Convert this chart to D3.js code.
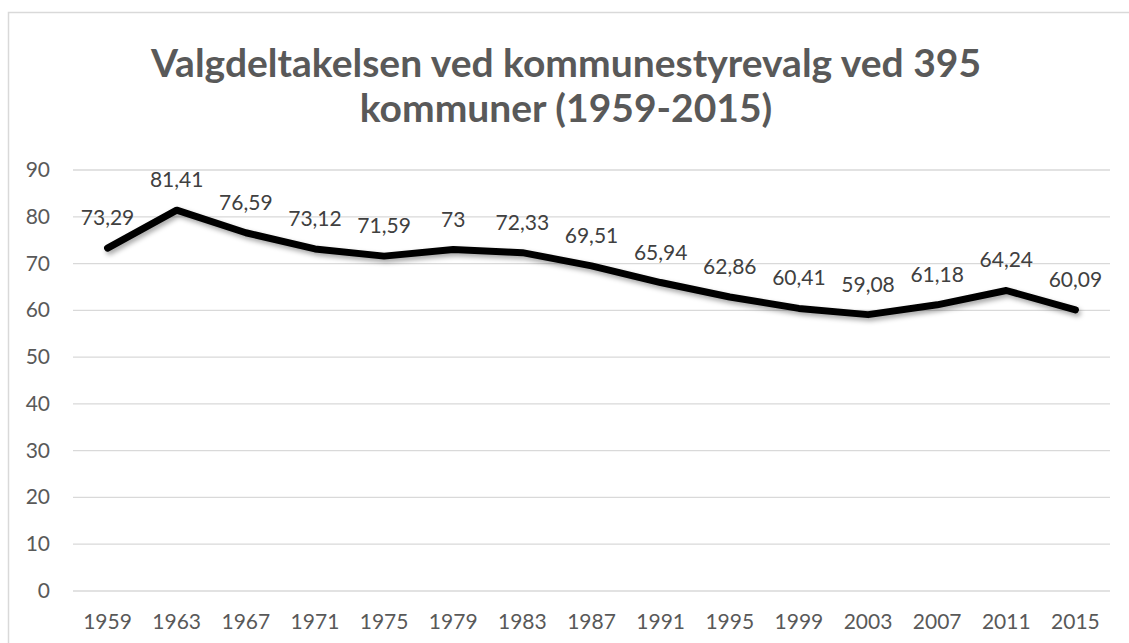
<!DOCTYPE html>
<html>
<head>
<meta charset="utf-8">
<script src="https://cdn.jsdelivr.net/npm/d3@7"></script>
<style>
  body { margin: 0; background: #fff; }
  svg { display: block; font-family: Lato, "Open Sans", sans-serif; }
</style>
</head>
<body>
<svg class="chart"></svg>
<script>
const years = ['1959', '1963', '1967', '1971', '1975', '1979', '1983', '1987',
  '1991', '1995', '1999', '2003', '2007', '2011', '2015'];
const turnout = [73.29, 81.41, 76.59, 73.12, 71.59, 73, 72.33, 69.51,
  65.94, 62.86, 60.41, 59.08, 61.18, 64.24, 60.09];
const yTicks = [0, 10, 20, 30, 40, 50, 60, 70, 80, 90];
const titleLines = ['Valgdeltakelsen ved kommunestyrevalg ved 395', 'kommuner (1959-2015)'];

const width = 1129;
const height = 643;
const margin = { top: 170, right: 19, bottom: 52, left: 73 };

const svg = d3.select('.chart')
  .attr('width', width)
  .attr('height', height);

// drop shadow for the line
const defs = svg.append('defs');
const shadow = defs.append('filter')
  .attr('id', 'shadow')
  .attr('x', '-10%').attr('y', '-30%')
  .attr('width', '120%').attr('height', '160%');
shadow.append('feDropShadow')
  .attr('dx', 2).attr('dy', 3)
  .attr('stdDeviation', 2.5)
  .attr('flood-color', '#000')
  .attr('flood-opacity', 0.35);

// chart border
svg.append('rect')
  .attr('x', 8.5)
  .attr('y', 12.5)
  .attr('width', width)
  .attr('height', height)
  .attr('fill', 'none')
  .attr('stroke', '#d9d9d9')
  .attr('stroke-width', 1.5);

// title
svg.append('text')
  .attr('text-anchor', 'middle')
  .attr('fill', '#595959')
  .attr('font-weight', 'bold')
  .attr('font-size', 39)
  .selectAll('tspan')
  .data(titleLines)
  .enter()
  .append('tspan')
  .attr('x', 566)
  .attr('y', (d, i) => 77 + i * 45)
  .text(d => d);

const x = d3.scaleBand()
  .domain(years)
  .range([margin.left, width - margin.right]);

const y = d3.scaleLinear()
  .domain([0, 90])
  .range([height - margin.bottom, margin.top]);

// gridlines
svg.append('g')
  .selectAll('line')
  .data(yTicks)
  .enter()
  .append('line')
  .attr('x1', margin.left)
  .attr('x2', width - margin.right)
  .attr('y1', d => y(d))
  .attr('y2', d => y(d))
  .attr('stroke', '#d9d9d9')
  .attr('stroke-width', 1.3);

// y axis labels
svg.append('g')
  .selectAll('text')
  .data(yTicks)
  .enter()
  .append('text')
  .attr('x', 50)
  .attr('y', d => y(d) + 7)
  .attr('text-anchor', 'end')
  .attr('fill', '#595959')
  .attr('font-size', 21)
  .text(d => d);

// x axis labels
svg.append('g')
  .selectAll('text')
  .data(years)
  .enter()
  .append('text')
  .attr('x', d => x(d) + x.bandwidth() / 2)
  .attr('y', 629)
  .attr('text-anchor', 'middle')
  .attr('fill', '#595959')
  .attr('font-size', 21)
  .text(d => d);

const points = years.map((yr, i) => ({ year: yr, value: turnout[i] }));

const line = d3.line()
  .x(d => x(d.year) + x.bandwidth() / 2)
  .y(d => y(d.value));

svg.append('path')
  .datum(points)
  .attr('d', line)
  .attr('fill', 'none')
  .attr('stroke', '#000')
  .attr('stroke-width', 7)
  .attr('stroke-linecap', 'round')
  .attr('stroke-linejoin', 'round')
  .attr('filter', 'url(#shadow)');

// data labels
svg.append('g')
  .selectAll('text')
  .data(points)
  .enter()
  .append('text')
  .attr('x', d => x(d.year) + x.bandwidth() / 2)
  .attr('y', d => y(d.value) - 23)
  .attr('text-anchor', 'middle')
  .attr('fill', '#404040')
  .attr('font-size', 21)
  .text(d => String(d.value).replace('.', ','));
</script>
</body>
</html>
